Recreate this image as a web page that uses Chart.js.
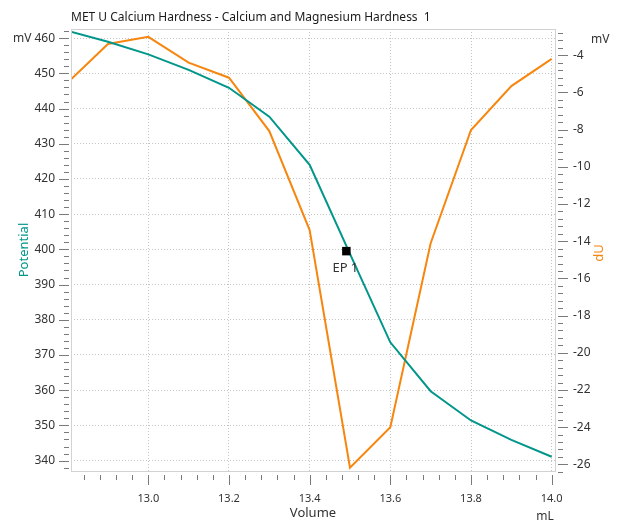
<!DOCTYPE html>
<html>
<head>
<meta charset="utf-8">
<script src="https://cdn.jsdelivr.net/npm/chart.js@4"></script>
<style>
  html, body { margin: 0; padding: 0; background: #fff; }
  #chart { display: block; }
</style>
</head>
<body>
<canvas id="chart" width="620" height="522"></canvas>
<script>
// values
const volume = [12.8, 12.9, 13.0, 13.1, 13.2, 13.3, 13.4, 13.5, 13.6, 13.7, 13.8, 13.9, 14.0];
const potential = [462.1, 459.0, 455.4, 451.0, 445.9, 437.7, 424.0, 398.7, 373.6, 359.7, 351.4, 345.9, 341.1];
const dU = [-5.47, -3.40, -3.01, -4.40, -5.21, -8.08, -13.40, -26.18, -24.0, -14.11, -8.02, -5.66, -4.20];

const endpointVolume = [13.491];
const endpointPotential = [399.5];
const endpointLabels = ["EP 1"];

const volumeTicks = [13.0, 13.2, 13.4, 13.6, 13.8, 14.0];
const potentialTicks = [340, 350, 360, 370, 380, 390, 400, 410, 420, 430, 440, 450, 460];
const dUTicks = [-26, -24, -22, -20, -18, -16, -14, -12, -10, -8, -6, -4];

const TEAL = "#00968a";
const ORANGE = "#f7860f";
const FONT = "'Noto Sans', sans-serif";
const GRID = "#c4c4c4";
const TICK = "#7a7a7a";

function pairs(xs, ys) {
  return xs.map((x, i) => ({ x: x, y: ys[i] }));
}

function setTicks(values) {
  return (scale) => {
    scale.ticks = values.map((v) => ({ value: v }));
  };
}

// minor tick marks: 5 per major step, drawn through the scale
function tickMarks(ctx, scale, majors, side, area) {
  const step = (majors[1] - majors[0]) / 5;
  const start = majors[0] - step * Math.floor((majors[0] - scale.min) / step);
  ctx.save();
  ctx.strokeStyle = TICK;
  ctx.lineWidth = 1;
  ctx.beginPath();
  for (let v = start; v <= scale.max + 1e-9; v += step) {
    const isMajor = majors.some((m) => Math.abs(m - v) < step / 10);
    const len = isMajor ? 10 : 5;
    const p = Math.round(scale.getPixelForValue(v)) + 0.5;
    if (side === "bottom") {
      ctx.moveTo(p, area.bottom + 3);
      ctx.lineTo(p, area.bottom + 3 + len);
    } else if (side === "left") {
      ctx.moveTo(area.left - 2, p);
      ctx.lineTo(area.left - 2 - len, p);
    } else {
      ctx.moveTo(area.right + 2, p);
      ctx.lineTo(area.right + 2 + len, p);
    }
  }
  ctx.stroke();
  ctx.restore();
}

const decorations = {
  id: "decorations",
  afterDraw(chart) {
    const { ctx, chartArea: a, scales } = chart;

    ctx.save();
    ctx.strokeStyle = "#d2d2d2";
    ctx.lineWidth = 1;
    ctx.strokeRect(a.left + 0.5, a.top + 0.5, a.width - 1, a.height - 1);
    ctx.restore();

    tickMarks(ctx, scales.x, volumeTicks, "bottom", a);
    tickMarks(ctx, scales.y, potentialTicks, "left", a);
    tickMarks(ctx, scales.y1, dUTicks, "right", a);

    ctx.save();
    ctx.textBaseline = "middle";

    ctx.fillStyle = "#1a1a1a";
    ctx.font = "12px " + FONT;
    ctx.textAlign = "left";
    ctx.fillText("MET U Calcium Hardness - Calcium and Magnesium Hardness  1", 71, 18);

    ctx.fillStyle = "#333";
    ctx.font = "12px " + FONT;
    ctx.fillText("mV", 13, 39);
    ctx.fillText("mV", 591, 40);

    ctx.font = "13px " + FONT;
    ctx.textAlign = "center";
    ctx.fillText("Volume", 313, 513);
    ctx.font = "12px " + FONT;
    ctx.fillText("mL", 545, 517);

    // endpoint label under the marker
    ctx.font = "13px " + FONT;
    ctx.fillStyle = "#333";
    endpointVolume.forEach((v, i) => {
      const px = scales.x.getPixelForValue(v);
      const py = scales.y.getPixelForValue(endpointPotential[i]);
      ctx.fillText(endpointLabels[i], px - 1, py + 17);
    });

    ctx.font = "13px " + FONT;
    ctx.fillStyle = TEAL;
    ctx.translate(24, 250);
    ctx.rotate(-Math.PI / 2);
    ctx.fillText("Potential", 0, 0);
    ctx.restore();

    ctx.save();
    ctx.textBaseline = "middle";
    ctx.textAlign = "center";
    ctx.font = "13px " + FONT;
    ctx.fillStyle = ORANGE;
    ctx.translate(599, 253);
    ctx.rotate(-Math.PI / 2);
    ctx.fillText("dU", 0, 0);
    ctx.restore();
  },
};

new Chart(document.getElementById("chart"), {
  type: "line",
  data: {
    datasets: [
      {
        label: "EP",
        data: pairs(endpointVolume, endpointPotential),
        yAxisID: "y",
        showLine: false,
        pointStyle: "rect",
        pointRadius: 6,
        pointBorderWidth: 0,
        pointBackgroundColor: "#000",
        order: 0,
      },
      {
        label: "Potential",
        data: pairs(volume, potential),
        yAxisID: "y",
        borderColor: TEAL,
        borderWidth: 2,
        pointRadius: 0,
        tension: 0,
        order: 1,
      },
      {
        label: "dU",
        data: pairs(volume, dU),
        yAxisID: "y1",
        borderColor: ORANGE,
        borderWidth: 2,
        pointRadius: 0,
        tension: 0,
        order: 2,
      },
    ],
  },
  options: {
    responsive: false,
    animation: false,
    layout: { padding: { top: 29, left: 0, right: 0, bottom: 0 } },
    plugins: {
      legend: { display: false },
      tooltip: { enabled: false },
    },
    scales: {
      x: {
        type: "linear",
        min: 12.8084,
        max: 14.0107,
        afterBuildTicks: setTicks(volumeTicks),
        afterFit: (s) => { s.height = 50; },
        grid: { color: GRID, drawTicks: false },
        border: { display: false, dash: [1, 2] },
        ticks: {
          padding: 20,
          color: "#333",
          font: { family: FONT, size: 11 },
          maxRotation: 0,
          callback: (v) => v.toFixed(1),
        },
      },
      y: {
        position: "left",
        min: 336.76,
        max: 462.6,
        afterBuildTicks: setTicks(potentialTicks),
        afterFit: (s) => { s.width = 71; },
        grid: { color: GRID, drawTicks: false },
        border: { display: false, dash: [1, 2] },
        ticks: {
          padding: 16,
          color: "#333",
          font: { family: FONT, size: 12 },
        },
      },
      y1: {
        position: "right",
        min: -26.41,
        max: -2.591,
        afterBuildTicks: setTicks(dUTicks),
        afterFit: (s) => { s.width = 64; },
        grid: { drawOnChartArea: false, drawTicks: false },
        border: { display: false },
        ticks: {
          padding: 17,
          color: "#333",
          font: { family: FONT, size: 12 },
        },
      },
    },
  },
  plugins: [decorations],
});
</script>
</body>
</html>
